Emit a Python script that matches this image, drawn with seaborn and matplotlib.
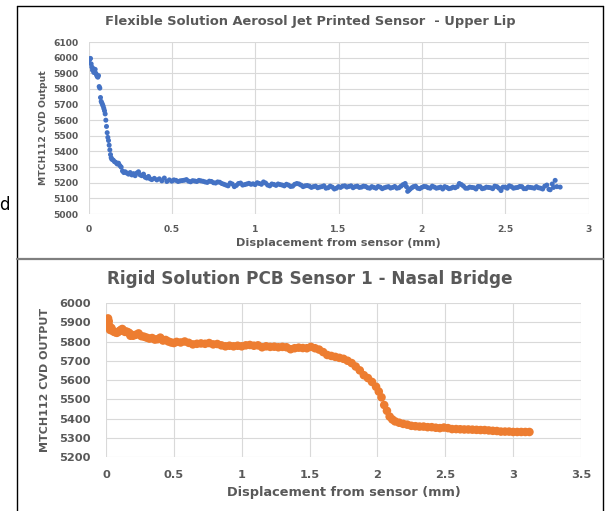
import matplotlib
matplotlib.use("Agg")
import matplotlib.pyplot as plt
import seaborn as sns
import pandas as pd
from matplotlib.lines import Line2D

# ---- data ----
# upper lip sweep (blue dots)
lip_x = [0.000, 0.004, 0.008, 0.012, 0.016, 0.020, 0.024, 0.028, 0.032, 0.036,
         0.040, 0.044, 0.048, 0.052, 0.056, 0.060, 0.064, 0.068, 0.072, 0.076,
         0.080, 0.084, 0.088, 0.092, 0.096, 0.100, 0.104, 0.108, 0.112, 0.116,
         0.120, 0.124, 0.128, 0.132, 0.136, 0.140, 0.148, 0.156, 0.164, 0.172,
         0.180, 0.188, 0.196, 0.204, 0.212, 0.220, 0.230, 0.240, 0.250, 0.260,
         0.270, 0.280, 0.290, 0.300, 0.310, 0.320, 0.330, 0.340, 0.350, 0.360,
         0.370, 0.380, 0.395, 0.410, 0.425, 0.440, 0.455, 0.470, 0.485, 0.500,
         0.525, 0.550, 0.575, 0.600, 0.625, 0.650, 0.675, 0.700, 0.725, 0.750,
         0.775, 0.800, 0.825, 0.850, 0.875, 0.900, 0.925, 0.950, 0.975, 1.000,
         1.025, 1.050, 1.075, 1.100, 1.125, 1.150, 1.175, 1.200, 1.225, 1.250,
         1.275, 1.300, 1.325, 1.350, 1.375, 1.400, 1.425, 1.450, 1.475, 1.500,
         1.525, 1.550, 1.575, 1.600, 1.625, 1.650, 1.675, 1.700, 1.725, 1.750,
         1.775, 1.800, 1.825, 1.850, 1.875, 1.900, 1.915, 1.930, 1.950, 1.975,
         2.000, 2.025, 2.050, 2.075, 2.100, 2.125, 2.150, 2.175, 2.200, 2.225,
         2.250, 2.275, 2.300, 2.325, 2.350, 2.375, 2.400, 2.425, 2.450, 2.475,
         2.500, 2.525, 2.550, 2.575, 2.600, 2.625, 2.650, 2.675, 2.700, 2.725,
         2.750, 2.770, 2.790, 2.800, 2.810, 2.830]
lip_y = [5975, 5985, 5990, 5995, 5960, 5940, 5920, 5930, 5905, 5915,
         5925, 5900, 5890, 5880, 5875, 5885, 5815, 5805, 5745, 5720,
         5710, 5700, 5690, 5675, 5660, 5640, 5600, 5560, 5520, 5490,
         5470, 5440, 5410, 5380, 5360, 5350, 5345, 5335, 5330, 5320,
         5325, 5310, 5300, 5275, 5265, 5270, 5262, 5255, 5265, 5250,
         5258, 5245, 5262, 5270, 5250, 5245, 5255, 5235, 5230, 5240,
         5225, 5220, 5228, 5218, 5225, 5212, 5230, 5208, 5218, 5210,
         5215, 5212, 5216, 5210, 5213, 5208, 5212, 5205, 5210, 5200,
         5205, 5195, 5185, 5198, 5175, 5195, 5185, 5192, 5190, 5188,
         5195, 5205, 5185, 5192, 5183, 5188, 5180, 5185, 5178, 5195,
         5185, 5180, 5178, 5175, 5168, 5175, 5165, 5178, 5160, 5175,
         5178, 5172, 5180, 5175, 5170, 5178, 5168, 5175, 5165, 5172,
         5168, 5175, 5170, 5165, 5178, 5195, 5145, 5160, 5175, 5165,
         5170, 5175, 5165, 5172, 5168, 5160, 5170, 5165, 5168, 5195,
         5178, 5165, 5170, 5160, 5175, 5165, 5170, 5162, 5175, 5150,
         5172, 5180, 5165, 5170, 5175, 5162, 5170, 5165, 5168, 5160,
         5185, 5155, 5170, 5215, 5175, 5172]
# extra readings between the ones above on the flat part
lip_x_mid = [0.5125, 0.5375, 0.5625, 0.5875, 0.6125, 0.6375, 0.6625, 0.6875, 0.7125, 0.7375,
             0.7625, 0.7875, 0.8125, 0.8375, 0.8625, 0.8875, 0.9125, 0.9375, 0.9625, 0.9875,
             1.0125, 1.0375, 1.0625, 1.0875, 1.1125, 1.1375, 1.1625, 1.1875, 1.2125, 1.2375,
             1.2625, 1.2875, 1.3125, 1.3375, 1.3625, 1.3875, 1.4125, 1.4375, 1.4625, 1.4875,
             1.5125, 1.5375, 1.5625, 1.5875, 1.6125, 1.6375, 1.6625, 1.6875, 1.7125, 1.7375,
             1.7625, 1.7875, 1.8125, 1.8375, 1.8625, 1.8875, 1.9625, 1.9875, 2.0125, 2.0375,
             2.0625, 2.0875, 2.1125, 2.1375, 2.1625, 2.1875, 2.2125, 2.2375, 2.2625, 2.2875,
             2.3125, 2.3375, 2.3625, 2.3875, 2.4125, 2.4375, 2.4625, 2.4875, 2.5125, 2.5375,
             2.5625, 2.5875, 2.6125, 2.6375, 2.6625, 2.6875, 2.7125, 2.7375, 2.7625, 2.7825,
             1.9075, 1.9225, 1.9400]
lip_y_mid = [5218, 5208, 5214, 5220, 5206, 5211, 5215, 5209, 5202, 5208,
             5198, 5203, 5190, 5180, 5192, 5183, 5198, 5188, 5196, 5193,
             5200, 5190, 5198, 5180, 5189, 5192, 5185, 5190, 5176, 5190,
             5192, 5175, 5182, 5170, 5178, 5172, 5180, 5168, 5172, 5165,
             5170, 5180, 5176, 5168, 5178, 5172, 5176, 5165, 5170, 5176,
             5162, 5172, 5166, 5176, 5168, 5188, 5178, 5162, 5176, 5168,
             5178, 5165, 5172, 5175, 5162, 5172, 5175, 5188, 5165, 5172,
             5168, 5176, 5162, 5172, 5168, 5178, 5165, 5172, 5165, 5175,
             5168, 5176, 5162, 5172, 5168, 5175, 5165, 5178, 5158, 5192,
             5175, 5152, 5168]

# nasal bridge sweep (orange dots)
nasal_x = [0.000, 0.005, 0.010, 0.015, 0.020, 0.025, 0.030, 0.040, 0.050, 0.060,
           0.070, 0.080, 0.090, 0.100, 0.110, 0.120, 0.130, 0.140, 0.150, 0.160,
           0.170, 0.180, 0.190, 0.200, 0.220, 0.240, 0.260, 0.280, 0.300, 0.320,
           0.340, 0.360, 0.380, 0.400, 0.420, 0.440, 0.460, 0.480, 0.500, 0.520,
           0.550, 0.580, 0.610, 0.640, 0.670, 0.700, 0.730, 0.760, 0.790, 0.820,
           0.850, 0.880, 0.910, 0.940, 0.970, 1.000, 1.030, 1.060, 1.090, 1.120,
           1.150, 1.180, 1.210, 1.240, 1.270, 1.300, 1.330, 1.360, 1.390, 1.420,
           1.450, 1.480, 1.510, 1.540, 1.570, 1.600, 1.630, 1.660, 1.690, 1.720,
           1.750, 1.780, 1.810, 1.840, 1.870, 1.900, 1.930, 1.960, 1.990, 2.010,
           2.030, 2.050, 2.070, 2.090, 2.110, 2.130, 2.160, 2.190, 2.220, 2.250,
           2.280, 2.310, 2.340, 2.370, 2.400, 2.430, 2.460, 2.490, 2.520, 2.550,
           2.580, 2.610, 2.640, 2.670, 2.700, 2.730, 2.760, 2.790, 2.820, 2.850,
           2.880, 2.910, 2.940, 2.970, 3.000, 3.030, 3.060, 3.090, 3.120]
nasal_y = [5880, 5900, 5915, 5920, 5905, 5880, 5860, 5870, 5855, 5850,
           5848, 5845, 5850, 5855, 5860, 5865, 5855, 5850, 5852, 5848,
           5845, 5830, 5835, 5830, 5835, 5842, 5828, 5825, 5820, 5815,
           5818, 5810, 5812, 5820, 5805, 5808, 5800, 5795, 5792, 5798,
           5795, 5800, 5793, 5785, 5788, 5790, 5788, 5792, 5785, 5787,
           5780, 5775, 5778, 5775, 5778, 5775, 5780, 5782, 5778, 5780,
           5770, 5775, 5772, 5773, 5770, 5772, 5770, 5760, 5765, 5768,
           5766, 5765, 5772, 5765, 5758, 5745, 5730, 5725, 5720, 5715,
           5710, 5700, 5688, 5670, 5650, 5625, 5610, 5590, 5565, 5540,
           5510, 5470, 5440, 5410, 5395, 5385, 5378, 5372, 5368, 5362,
           5360, 5358, 5358, 5355, 5355, 5352, 5350, 5353, 5350, 5345,
           5345, 5344, 5343, 5343, 5342, 5341, 5340, 5340, 5338, 5336,
           5335, 5332, 5332, 5332, 5330, 5330, 5330, 5330, 5330]

lip_xticks = [0, 0.5, 1, 1.5, 2, 2.5, 3]
lip_yticks = [5000, 5100, 5200, 5300, 5400, 5500, 5600, 5700, 5800, 5900, 6000, 6100]
nasal_xticks = [0, 0.5, 1, 1.5, 2, 2.5, 3, 3.5]
nasal_yticks = [5200, 5300, 5400, 5500, 5600, 5700, 5800, 5900, 6000]

lip = pd.DataFrame({"x": lip_x + lip_x_mid, "y": lip_y + lip_y_mid})
nasal = pd.DataFrame({"x": nasal_x, "y": nasal_y})

sns.set_theme(style="whitegrid")
plt.rcParams["font.family"] = ["DejaVu Sans"]

W, H = 605, 511
fig = plt.figure(figsize=(W / 100, H / 100), dpi=100)
fig.patch.set_facecolor("white")

def box(l, t, r, b):
    return [l / W, 1 - b / H, (r - l) / W, (b - t) / H]

grey = "#595959"
grid = "#d9d9d9"

def fmt(v):
    return "%g" % v

# ---- top panel ----
ax1 = fig.add_axes(box(88.5, 42, 588.5, 214))
sns.scatterplot(data=lip, x="x", y="y", ax=ax1, color="#4472C4", s=13,
                edgecolor="none", linewidth=0)
ax1.set_xlim(0, 3)
ax1.set_ylim(5000, 6100)
ax1.set_xticks(lip_xticks)
ax1.set_xticklabels([fmt(v) for v in lip_xticks])
ax1.set_yticks(lip_yticks)
ax1.tick_params(axis="both", labelsize=6.6, colors=grey, length=0)
for lab in ax1.get_xticklabels() + ax1.get_yticklabels():
    lab.set_fontweight("bold")
ax1.tick_params(axis="x", pad=8)
ax1.tick_params(axis="y", pad=7)
ax1.grid(True, color=grid, linewidth=0.8)
for s in ax1.spines.values():
    s.set_visible(False)
ax1.set_xlabel("Displacement from sensor (mm)", fontsize=8.1, fontweight="bold",
               color=grey, va="center")
ax1.xaxis.set_label_coords(0.5, -(243 - 214) / 172)
ax1.set_ylabel("MTCH112 CVD Output", fontsize=6.7, fontweight="bold",
               color=grey, va="center")
ax1.yaxis.set_label_coords((43 - 88.5) / 500, 0.5)
fig.text(310 / W, 1 - 21 / H,
         "Flexible Solution Aerosol Jet Printed Sensor  - Upper Lip",
         ha="center", va="center", fontsize=9.4, fontweight="bold", color=grey)

# ---- bottom panel ----
ax2 = fig.add_axes(box(106, 303, 581, 457))
sns.scatterplot(data=nasal, x="x", y="y", ax=ax2, color="#ED7D31", s=38,
                edgecolor="none", linewidth=0)
ax2.set_xlim(0, 3.5)
ax2.set_ylim(5200, 6000)
ax2.set_xticks(nasal_xticks)
ax2.set_xticklabels([fmt(v) for v in nasal_xticks])
ax2.set_yticks(nasal_yticks)
ax2.tick_params(axis="both", labelsize=8.2, colors=grey, length=0)
for lab in ax2.get_xticklabels() + ax2.get_yticklabels():
    lab.set_fontweight("bold")
ax2.tick_params(axis="x", pad=9)
ax2.tick_params(axis="y", pad=11)
ax2.grid(True, color=grid, linewidth=0.8)
for s in ax2.spines.values():
    s.set_visible(False)
ax2.set_xlabel("Displacement from sensor (mm)", fontsize=9.3, fontweight="bold",
               color=grey, va="center")
ax2.xaxis.set_label_coords(0.5, -(492 - 457) / 154)
ax2.set_ylabel("MTCH112 CVD OUTPUT", fontsize=8, fontweight="bold",
               color=grey, va="center")
ax2.yaxis.set_label_coords((45 - 106) / 475, 0.5)
fig.text(310 / W, 1 - 279 / H, "Rigid Solution PCB Sensor 1 - Nasal Bridge",
         ha="center", va="center", fontsize=12.2, fontweight="bold", color=grey)

# ---- panel frames ----
def hline(y, x0, x1, c="black", lw=1.0):
    fig.add_artist(Line2D([x0 / W, x1 / W], [1 - y / H, 1 - y / H], color=c, lw=lw))

def vline(x, y0, y1, c="black", lw=1.0):
    fig.add_artist(Line2D([x / W, x / W], [1 - y0 / H, 1 - y1 / H], color=c, lw=lw))

hline(6.5, 16.5, 602.5)
vline(16.5, 6.5, 511)
vline(602.5, 6.5, 511)
hline(259, 16.5, 602.5, c="#7f7f7f", lw=1.6)

fig.text(-1 / W, 1 - 205 / H, "d", fontsize=12, color="black", va="center",
         ha="left")

plt.savefig("out.png", dpi=100)
